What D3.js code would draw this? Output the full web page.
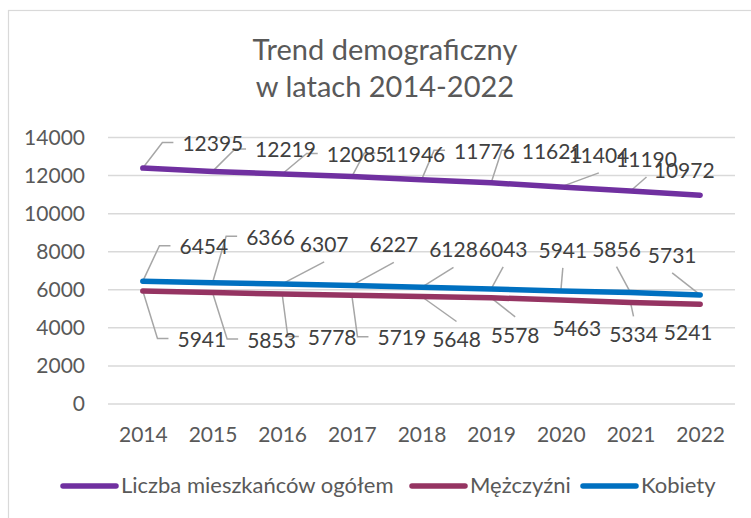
<!DOCTYPE html>
<html>
<head>
<meta charset="utf-8">
<script src="https://cdn.jsdelivr.net/npm/d3@7"></script>
<style>
  body { margin: 0; background: #fff; }
  svg { display: block; font-family: Lato, "Open Sans", sans-serif; }
</style>
</head>
<body>
<div id="chart"></div>
<script>
// data
const years = ["2014", "2015", "2016", "2017", "2018", "2019", "2020", "2021", "2022"];
const total = [12395, 12219, 12085, 11946, 11776, 11621, 11404, 11190, 10972];
const men = [5941, 5853, 5778, 5719, 5648, 5578, 5463, 5334, 5241];
const women = [6454, 6366, 6307, 6227, 6128, 6043, 5941, 5856, 5731];
const yTicks = [0, 2000, 4000, 6000, 8000, 10000, 12000, 14000];
const seriesNames = ["Liczba mieszkańców ogółem", "Mężczyźni", "Kobiety"];
const seriesColors = ["#7030A0", "#953462", "#0070C0"];

// label placement (offset of label centre / baseline from its point)
const totalLabelOff = [[70, -17], [73, -14], [75, -12], [63, -15], [63, -21], [61, -24], [38, -24], [16, -24], [-16, -17]];
const menLabelOff = [[59, 56], [59, 55], [50, 51], [50, 50], [35, 51], [24, 45], [16, 36], [3, 40], [-12, 36]];
const womenLabelOff = [[61, -27], [58, -38], [42, -32], [42, -33], [32, -30], [12, -32], [2, -33], [-14, -36], [-28, -32]];

const W = 751, H = 518;
const m = { left: 108, right: 16, top: 137.5, bottom: 114 };

const svg = d3.select("#chart").append("svg").attr("width", W).attr("height", H);

svg.append("rect").attr("x", 8.5).attr("y", 10.5).attr("width", 770).attr("height", 530)
    .attr("fill", "#fff").attr("stroke", "#D9D9D9").attr("stroke-width", 1.2);

svg.append("text").attr("x", 385).attr("y", 60).attr("text-anchor", "middle")
    .attr("fill", "#595959").style("font-size", "29px").text("Trend demograficzny");
svg.append("text").attr("x", 385).attr("y", 97).attr("text-anchor", "middle")
    .attr("fill", "#595959").style("font-size", "29px").text("w latach 2014-2022");

let x = d3.scalePoint().domain(years).range([m.left, W - m.right]).padding(0.5);
let y = d3.scaleLinear().domain([0, 14000]).range([H - m.bottom, m.top]);

// gridlines
svg.append("g").selectAll("line").data(yTicks).enter().append("line")
    .attr("x1", m.left).attr("x2", W - m.right)
    .attr("y1", d => y(d)).attr("y2", d => y(d))
    .attr("stroke", "#D9D9D9").attr("stroke-width", 1.5);

let yAxis = svg.append("g").attr("transform", `translate(${m.left - 8},0)`)
    .call(d3.axisLeft(y).tickValues(yTicks).tickSize(0).tickPadding(15).tickFormat(d3.format("d")));
yAxis.select(".domain").remove();
yAxis.selectAll("text").attr("fill", "#595959").style("font-size", "21px").style("font-family", "Lato, sans-serif");

let xAxis = svg.append("g").attr("transform", `translate(0,${H - m.bottom})`)
    .call(d3.axisBottom(x).tickSize(0).tickPadding(23));
xAxis.select(".domain").remove();
xAxis.selectAll("text").attr("fill", "#595959").style("font-size", "21px").style("font-family", "Lato, sans-serif");

const series = [
    { vals: total, off: totalLabelOff, color: seriesColors[0] },
    { vals: men, off: menLabelOff, color: seriesColors[1] },
    { vals: women, off: womenLabelOff, color: seriesColors[2] }
];

let line = d3.line().x((d, i) => x(years[i])).y(d => y(d));

let leaderG = svg.append("g");
series.forEach(s => {
    svg.append("path").datum(s.vals).attr("d", line)
        .attr("fill", "none").attr("stroke", s.color).attr("stroke-width", 5.5)
        .attr("stroke-linecap", "round").attr("stroke-linejoin", "round");
});

let labelG = svg.append("g");
series.forEach(s => {
    s.vals.forEach((v, i) => {
        let px = x(years[i]), py = y(v);
        let cx = px + s.off[i][0], by = py + s.off[i][1];
        let t = labelG.append("text").attr("x", cx).attr("y", by).attr("text-anchor", "middle")
            .attr("fill", "#404040").style("font-size", "21px").text(v);
        let bb = t.node().getBBox();
        let pts;
        if (bb.x - px > 22) {
            let my = by - 8.5;
            pts = [[px, py], [bb.x - 20, my], [bb.x - 9, my]];
        } else {
            let above = by < py;
            let ey = above ? by + 10 : by - 26;
            if (Math.abs(ey - py) <= 12) return;
            pts = [[px, py], [cx, ey]];
        }
        leaderG.append("path").attr("d", d3.line()(pts))
            .attr("fill", "none").attr("stroke", "#A6A6A6").attr("stroke-width", 1.5);
    });
});

// legend
const legX = [63, 412, 583];
let leg = svg.append("g");
seriesNames.forEach((n, i) => {
    leg.append("line").attr("x1", legX[i]).attr("x2", legX[i] + 53).attr("y1", 486).attr("y2", 486)
        .attr("stroke", seriesColors[i]).attr("stroke-width", 5.5).attr("stroke-linecap", "round");
    leg.append("text").attr("x", legX[i] + 58).attr("y", 493).attr("fill", "#595959")
        .style("font-size", "22px").text(n);
});
</script>
</body>
</html>
